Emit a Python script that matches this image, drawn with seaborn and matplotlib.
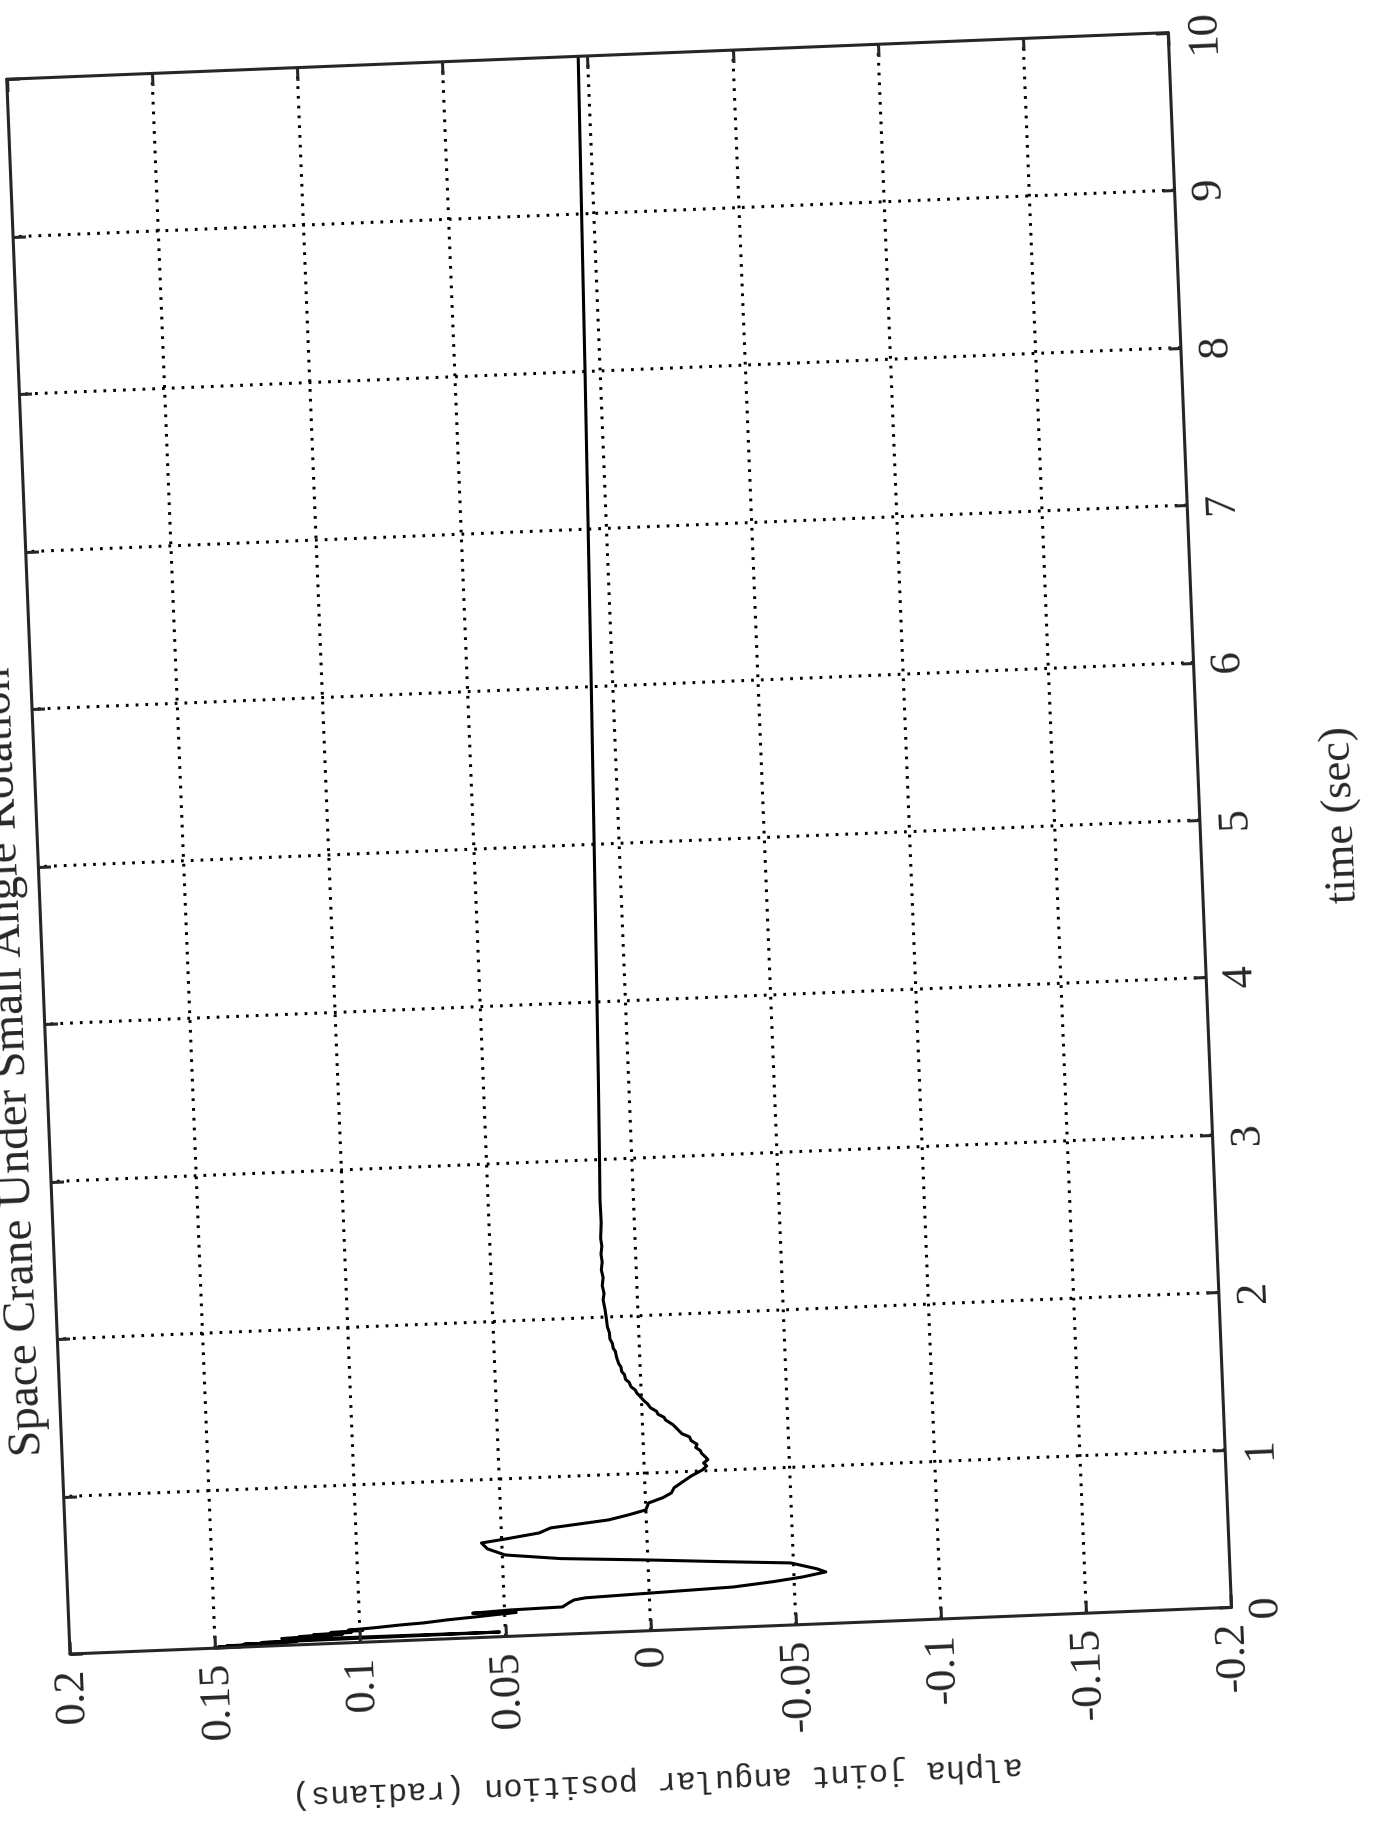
"""
Space crane alpha joint response - rotated scan recreation
"""
import matplotlib
matplotlib.use("Agg")
import matplotlib.pyplot as plt
import seaborn as sns
from matplotlib.transforms import Affine2D
import mpl_toolkits.axisartist.floating_axes as floating_axes
from mpl_toolkits.axisartist.grid_finder import FixedLocator, DictFormatter

# ---- data ----
time_s = [0.000, 0.003, 0.006, 0.009, 0.012, 0.015, 0.018, 0.021, 0.024, 0.027,
          0.030, 0.033, 0.036, 0.040, 0.044, 0.048, 0.052, 0.056, 0.060, 0.065,
          0.070, 0.075, 0.080, 0.090, 0.100, 0.107, 0.120, 0.132, 0.140, 0.150,
          0.156, 0.167, 0.173, 0.195, 0.214, 0.225, 0.239, 0.256, 0.280, 0.302,
          0.328, 0.350, 0.394, 0.420, 0.449, 0.480, 0.517, 0.560, 0.599, 0.620,
          0.648, 0.677, 0.713, 0.740, 0.767, 0.810, 0.840, 0.868, 0.900, 0.935,
          0.970, 1.006, 1.030, 1.050, 1.070, 1.088, 1.110, 1.130, 1.150, 1.170,
          1.195, 1.219, 1.240, 1.260, 1.280, 1.300, 1.332, 1.350, 1.370, 1.390,
          1.413, 1.440, 1.460, 1.490, 1.510, 1.530, 1.551, 1.580, 1.600, 1.630,
          1.650, 1.680, 1.700, 1.744, 1.780, 1.800, 1.830, 1.860, 1.900, 1.937,
          2.000, 2.050, 2.109, 2.150, 2.200, 2.250, 2.300, 2.350, 2.400, 2.450,
          2.500, 2.600, 2.744, 3.000, 3.500, 4.000, 5.000, 6.000, 7.000, 8.000,
          9.000, 10.000]
alpha_rad = [0.150, 0.141, 0.149, 0.135, 0.146, 0.128, 0.140, 0.122, 0.134, 0.090,
             0.052, 0.100, 0.124, 0.116, 0.127, 0.110, 0.121, 0.106, 0.116, 0.103,
             0.110, 0.099, 0.104, 0.094, 0.086, 0.078, 0.070, 0.060, 0.054, 0.046,
             0.061, 0.048, 0.030, 0.028, 0.026, 0.022, -0.001, -0.029, -0.043, -0.053,
             -0.061, -0.058, -0.049, -0.025, 0.000, 0.030, 0.049, 0.055, 0.057, 0.048,
             0.037, 0.033, 0.013, 0.006, 0.000, -0.001, -0.006, -0.009, -0.010, -0.013,
             -0.016, -0.020, -0.0215, -0.0205, -0.022, -0.0212, -0.0200, -0.0195, -0.0180, -0.0185,
             -0.0165, -0.0160, -0.0135, -0.0125, -0.0115, -0.0105, -0.0080, -0.0075, -0.0055, -0.0050,
             -0.0030, -0.0020, -0.0008, 0.0005, 0.0015, 0.0020, 0.0034, 0.0040, 0.0052, 0.0055,
             0.0064, 0.0066, 0.0073, 0.0080, 0.0083, 0.0090, 0.0092, 0.0100, 0.0101, 0.0107,
             0.0110, 0.0113, 0.0118, 0.0114, 0.0119, 0.0115, 0.0120, 0.0116, 0.0119, 0.0115,
             0.0118, 0.0114, 0.0115, 0.0111, 0.0104, 0.0098, 0.0086, 0.0074, 0.0063, 0.0052,
             0.0042, 0.0032]

time_ticks = [0, 1, 2, 3, 4, 5, 6, 7, 8, 9, 10]
time_labels = ['0', '1', '2', '3', '4', '5', '6', '7', '8', '9', '10']
angle_ticks = [-0.2, -0.15, -0.1, -0.05, 0.0, 0.05, 0.1, 0.15, 0.2]
angle_labels = ['-0.2', '-0.15', '-0.1', '-0.05', '0', '0.05', '0.1', '0.15', '0.2']

title = "Space Crane Under Small Angle Rotation"
xlabel = "time (sec)"
ylabel = "alpha joint angular position (radians)"

# ---- page geometry (the scan is turned ~92 deg) ----
W, H, DPI = 1383, 1839, 100
SEC_PX = 157.6          # pixels per second
RAD_PX = 2906.0         # pixels per radian
TILT = 92.3             # page rotation, degrees ccw
ORIGIN = (70, H - 1654)  # pixel spot of (t=0, alpha=0.2)

sns.set_style("white")
fig = plt.figure(figsize=(W / DPI, H / DPI), dpi=DPI)

tr = Affine2D().scale(SEC_PX, RAD_PX).rotate_deg(TILT)
grid_helper = floating_axes.GridHelperCurveLinear(
    tr, extremes=(0, 10, -0.2, 0.2),
    grid_locator1=FixedLocator(time_ticks),
    grid_locator2=FixedLocator(angle_ticks),
    tick_formatter1=DictFormatter(dict(zip(time_ticks, time_labels))),
    tick_formatter2=DictFormatter(dict(zip(angle_ticks, angle_labels))))

# axes box = bbox of the turned frame (floating axes pad it by 2%)
corners = tr.transform([[0, -0.2], [0, 0.2], [10, -0.2], [10, 0.2]])
x0, y0 = corners.min(axis=0)
x1, y1 = corners.max(axis=0)
cx, cy = (x0 + x1) / 2, (y0 + y1) / 2
bw, bh = (x1 - x0) * 1.02, (y1 - y0) * 1.02
ox = ORIGIN[0] - corners[1][0]
oy = ORIGIN[1] - corners[1][1]
rect = [(cx - bw / 2 + ox) / W, (cy - bh / 2 + oy) / H, bw / W, bh / H]
ax = fig.add_axes(rect, axes_class=floating_axes.FloatingAxes, grid_helper=grid_helper)

ax.grid(True, color='black', linewidth=2.2, linestyle=(0, (0.9, 2.3)))

for side in ["left", "right", "top", "bottom"]:
    axis = ax.axis[side]
    axis.line.set_linewidth(2.2)
    axis.major_ticks.set_ticksize(9)
    axis.major_ticks.set_tick_out(False)
    axis.major_ticks.set_markeredgewidth(2.2)
    axis.major_ticklabels.set_fontsize(32)
    axis.major_ticklabels.set_fontfamily("Liberation Serif")

ax.axis["left"].major_ticklabels.set_pad(10)
ax.axis["bottom"].major_ticklabels.set_pad(12)

ax.axis["bottom"].label.set_text(xlabel)
ax.axis["bottom"].label.set_fontsize(32)
ax.axis["bottom"].label.set_fontfamily("Liberation Serif")
ax.axis["bottom"].label.set_pad(55)

ax.axis["left"].label.set_text(ylabel)
ax.axis["left"].label.set_fontsize(23)
ax.axis["left"].label.set_fontfamily("Liberation Mono")
ax.axis["left"].label.set_pad(20)

aux = ax.get_aux_axes(tr)
sns.lineplot(x=time_s, y=alpha_rad, ax=aux, color='black', linewidth=2.2,
             sort=False, estimator=None)

# title sits on the left, partly off the page like the scan
fig.text(41 / W, (H - 1455) / H, title, rotation=TILT, rotation_mode='anchor',
         ha='left', va='baseline', fontsize=34, family='Liberation Serif')

fig.savefig("out.png", dpi=DPI)
